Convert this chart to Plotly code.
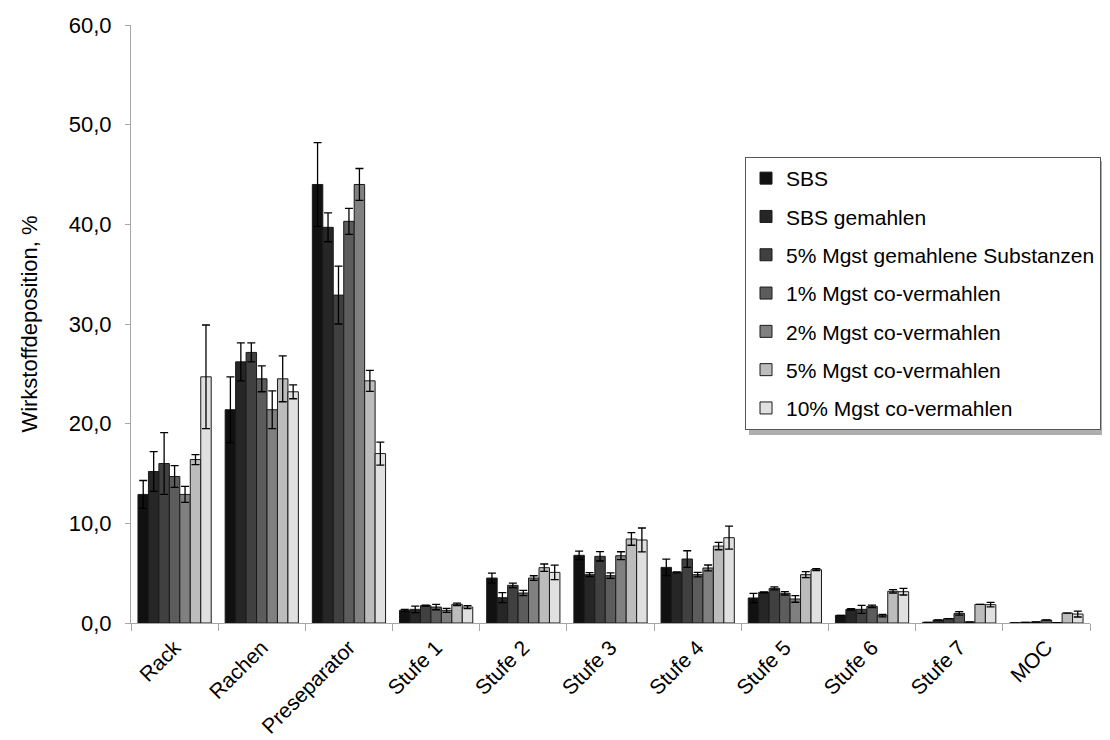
import plotly.graph_objects as go

categories = ["Rack", "Rachen", "Preseparator", "Stufe 1", "Stufe 2", "Stufe 3",
              "Stufe 4", "Stufe 5", "Stufe 6", "Stufe 7", "MOC"]

series_names = ["SBS", "SBS gemahlen", "5% Mgst gemahlene Substanzen",
                "1% Mgst co-vermahlen", "2% Mgst co-vermahlen",
                "5% Mgst co-vermahlen", "10% Mgst co-vermahlen"]

sbs = [12.9, 21.4, 44.0, 1.27, 4.51, 6.79, 5.58, 2.51, 0.77, 0.07, 0.02]
sbs_err = [1.4, 3.3, 4.2, 0.1, 0.5, 0.43, 0.83, 0.47, 0.0, 0.0, 0.0]

sbs_gem = [15.2, 26.2, 39.7, 1.37, 2.54, 4.85, 5.08, 3.08, 1.37, 0.3, 0.07]
sbs_gem_err = [2.0, 1.9, 1.45, 0.33, 0.5, 0.2, 0.05, 0.05, 0.07, 0.0, 0.0]

mg5_gem = [16.0, 27.15, 32.9, 1.74, 3.78, 6.69, 6.42, 3.48, 1.37, 0.43, 0.1]
mg5_gem_err = [3.1, 0.95, 2.9, 0.05, 0.23, 0.47, 0.83, 0.15, 0.4, 0.0, 0.0]

mg1_co = [14.7, 24.5, 40.3, 1.6, 3.01, 4.75, 4.85, 2.98, 1.67, 0.97, 0.3]
mg1_co_err = [1.1, 1.3, 1.3, 0.27, 0.27, 0.27, 0.23, 0.17, 0.13, 0.17, 0.0]

mg2_co = [12.9, 21.4, 44.0, 1.27, 4.51, 6.75, 5.52, 2.41, 0.74, 0.1, 0.03]
mg2_co_err = [0.8, 1.9, 1.6, 0.2, 0.23, 0.4, 0.3, 0.33, 0.13, 0.0, 0.0]

mg5_co = [16.4, 24.5, 24.3, 1.87, 5.55, 8.43, 7.72, 4.85, 3.18, 1.87, 1.0]
mg5_co_err = [0.5, 2.3, 1.05, 0.13, 0.37, 0.63, 0.37, 0.3, 0.17, 0.0, 0.0]

mg10_co = [24.7, 23.2, 17.0, 1.6, 5.08, 8.33, 8.56, 5.35, 3.14, 1.84, 0.9]
mg10_co_err = [5.2, 0.7, 1.15, 0.15, 0.73, 1.2, 1.15, 0.1, 0.33, 0.23, 0.3]

values = [sbs, sbs_gem, mg5_gem, mg1_co, mg2_co, mg5_co, mg10_co]
errors = [sbs_err, sbs_gem_err, mg5_gem_err, mg1_co_err, mg2_co_err, mg5_co_err, mg10_co_err]
colors = ["#111111", "#262626", "#404040", "#5c5c5c", "#808080", "#bcbcbc", "#e0e0e0"]

FONT = "Liberation Sans, Arial, sans-serif"

# figure geometry (page body has an 8px margin)
W, H = 1102, 732
L, T, PW, PH = 123, 17, 959, 598
R = W - L - PW
B = H - T - PH
PB = T + PH  # plot bottom in figure px


def px(xf):
    return (xf - L) / PW


def py(yf):
    return (PB - yf) / PH


fig = go.Figure()
for i, (name, v, e, c) in enumerate(zip(series_names, values, errors, colors)):
    fig.add_trace(go.Bar(
        name=name, x=categories, y=v,
        marker=dict(color=c, line=dict(color="#1a1a1a", width=1)),
        error_y=dict(type="data", array=e, visible=True, color="#000000",
                     thickness=1.3, width=4),
        legendgroup=f"g{i}",
    ))

# legend shadow
fig.add_shape(type="rect", xref="paper", yref="paper",
              x0=px(741), x1=px(1120),
              y0=py(427), y1=py(153),
              fillcolor="rgba(120,120,120,0.6)", line=dict(width=0), layer="above")

fig.update_layout(
    width=W, height=H,
    margin=dict(l=L, r=R, t=T, b=B, autoexpand=False),
    paper_bgcolor="white", plot_bgcolor="white",
    separators=",.",
    font=dict(family=FONT, size=22, color="#000000"),
    barmode="group", bargap=0.16, bargroupgap=0,
    showlegend=True,
    legend=dict(
        x=px(737), y=py(149), xanchor="left", yanchor="top",
        bgcolor="white", bordercolor="#555555", borderwidth=1,
        font=dict(family=FONT, size=21, color="#000000"),
        tracegroupgap=8, itemwidth=30,
    ),
    xaxis=dict(
        type="category", showline=True, linecolor="#a6a6a6", linewidth=1,
        ticks="outside", tickson="boundaries", ticklen=7, tickcolor="#a6a6a6",
        ticklabelstandoff=3,
        tickangle=-45, tickfont=dict(size=21, family=FONT), showgrid=False,
        automargin=False,
    ),
    yaxis=dict(
        range=[0, 60], dtick=10, tickformat=".1f",
        showline=True, linecolor="#a6a6a6", linewidth=1,
        ticks="outside", ticklen=5, tickcolor="#a6a6a6",
        ticklabelstandoff=9,
        showgrid=False, zeroline=False, automargin=False,
        tickfont=dict(size=22, family=FONT),
        title=dict(text="Wirkstoffdeposition, %", font=dict(size=22, family=FONT), standoff=25),
    ),
)

fig.write_html("out.html")
